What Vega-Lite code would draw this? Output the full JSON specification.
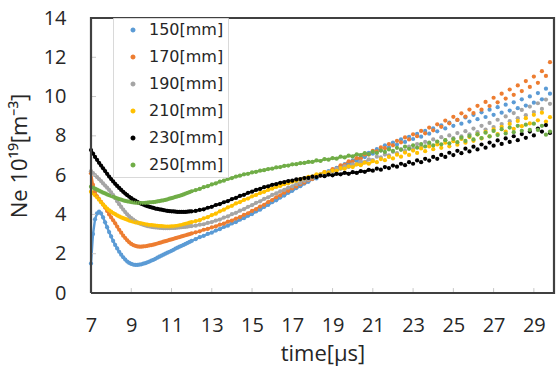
{
"$schema":"https://vega.github.io/schema/vega-lite/v6.json",
"width":463,"height":275,
"autosize":{"type":"none"},
"padding":{"left":91,"top":18,"right":4,"bottom":81},
"background":"white",
"view":{"stroke":null},
"config":{"font":"Open Sans","axis":{"grid":false,"domain":false,"ticks":false,"labelOverlap":false,"labelFontSize":20,"labelColor":"#262626","labelFlush":false,"titleFontSize":22,"titleFontWeight":"normal","titleColor":"#262626"},"axisX":{"labelPadding":22,"titlePadding":8},"axisY":{"labelPadding":25,"titlePadding":12}},
"datasets":{
"ticks":[
{"x":9,"y":0,"g":"x9"},{"x":9,"y":0.25,"g":"x9"},{"x":11,"y":0,"g":"x11"},{"x":11,"y":0.25,"g":"x11"},{"x":13,"y":0,"g":"x13"},{"x":13,"y":0.25,"g":"x13"},{"x":15,"y":0,"g":"x15"},{"x":15,"y":0.25,"g":"x15"},{"x":17,"y":0,"g":"x17"},{"x":17,"y":0.25,"g":"x17"},{"x":19,"y":0,"g":"x19"},{"x":19,"y":0.25,"g":"x19"},{"x":21,"y":0,"g":"x21"},{"x":21,"y":0.25,"g":"x21"},{"x":23,"y":0,"g":"x23"},{"x":23,"y":0.25,"g":"x23"},{"x":25,"y":0,"g":"x25"},{"x":25,"y":0.25,"g":"x25"},{"x":27,"y":0,"g":"x27"},{"x":27,"y":0.25,"g":"x27"},{"x":29,"y":0,"g":"x29"},{"x":29,"y":0.25,"g":"x29"},
{"x":7,"y":2,"g":"y2"},{"x":7.25,"y":2,"g":"y2"},{"x":7,"y":4,"g":"y4"},{"x":7.25,"y":4,"g":"y4"},{"x":7,"y":6,"g":"y6"},{"x":7.25,"y":6,"g":"y6"},{"x":7,"y":8,"g":"y8"},{"x":7.25,"y":8,"g":"y8"},{"x":7,"y":10,"g":"y10"},{"x":7.25,"y":10,"g":"y10"},{"x":7,"y":12,"g":"y12"},{"x":7.25,"y":12,"g":"y12"}],
"frame":[{"x":7,"y":0,"o":1},{"x":30,"y":0,"o":2},{"x":30,"y":14,"o":3},{"x":7,"y":14,"o":4},{"x":7,"y":0,"o":5}],
"ne":[
{"t":7.0,"150":1.5,"170":6.1,"190":6.2,"210":5.16,"230":7.28,"250":5.41},
{"t":7.1,"150":3.0,"170":5.5,"190":6.1,"210":5.08,"230":7.1,"250":5.36},
{"t":7.2,"150":3.75,"170":5.15,"190":6.0,"210":4.98,"230":6.93,"250":5.31},
{"t":7.3,"150":4.05,"170":4.92,"190":5.9,"210":4.87,"230":6.78,"250":5.26},
{"t":7.4,"150":4.14,"170":4.78,"190":5.8,"210":4.75,"230":6.63,"250":5.21},
{"t":7.5,"150":4.05,"170":4.64,"190":5.7,"210":4.62,"230":6.49,"250":5.16},
{"t":7.6,"150":3.85,"170":4.5,"190":5.58,"210":4.5,"230":6.35,"250":5.11},
{"t":7.7,"150":3.6,"170":4.35,"190":5.47,"210":4.4,"230":6.21,"250":5.07},
{"t":7.8,"150":3.35,"170":4.18,"190":5.36,"210":4.3,"230":6.07,"250":5.02},
{"t":7.9,"150":3.1,"170":4.0,"190":5.25,"210":4.21,"230":5.93,"250":4.98},
{"t":8.0,"150":2.88,"170":3.85,"190":5.12,"210":4.14,"230":5.8,"250":4.94},
{"t":8.1,"150":2.65,"170":3.7,"190":4.98,"210":4.07,"230":5.68,"250":4.9},
{"t":8.2,"150":2.45,"170":3.55,"190":4.83,"210":4.01,"230":5.56,"250":4.86},
{"t":8.3,"150":2.27,"170":3.38,"190":4.67,"210":3.95,"230":5.45,"250":4.82},
{"t":8.4,"150":2.1,"170":3.22,"190":4.52,"210":3.9,"230":5.35,"250":4.78},
{"t":8.5,"150":1.95,"170":3.07,"190":4.38,"210":3.85,"230":5.25,"250":4.75},
{"t":8.6,"150":1.82,"170":2.92,"190":4.25,"210":3.81,"230":5.15,"250":4.72},
{"t":8.7,"150":1.7,"170":2.8,"190":4.12,"210":3.77,"230":5.06,"250":4.69},
{"t":8.8,"150":1.6,"170":2.68,"190":4.0,"210":3.73,"230":4.98,"250":4.67},
{"t":8.9,"150":1.53,"170":2.58,"190":3.9,"210":3.69,"230":4.9,"250":4.65},
{"t":9.0,"150":1.48,"170":2.5,"190":3.81,"210":3.66,"230":4.83,"250":4.63},
{"t":9.1,"150":1.45,"170":2.44,"190":3.73,"210":3.63,"230":4.76,"250":4.61},
{"t":9.2,"150":1.43,"170":2.4,"190":3.66,"210":3.6,"230":4.7,"250":4.6},
{"t":9.3,"150":1.43,"170":2.37,"190":3.6,"210":3.58,"230":4.64,"250":4.59},
{"t":9.4,"150":1.44,"170":2.36,"190":3.55,"210":3.56,"230":4.59,"250":4.58},
{"t":9.5,"150":1.46,"170":2.36,"190":3.51,"210":3.54,"230":4.54,"250":4.58},
{"t":9.6,"150":1.49,"170":2.37,"190":3.47,"210":3.52,"230":4.5,"250":4.58},
{"t":9.7,"150":1.52,"170":2.38,"190":3.44,"210":3.5,"230":4.46,"250":4.59},
{"t":9.8,"150":1.56,"170":2.4,"190":3.41,"210":3.48,"230":4.42,"250":4.6},
{"t":9.9,"150":1.6,"170":2.42,"190":3.39,"210":3.46,"230":4.39,"250":4.61},
{"t":10.0,"150":1.65,"170":2.44,"190":3.37,"210":3.45,"230":4.36,"250":4.62},
{"t":10.1,"150":1.69,"170":2.46,"190":3.35,"210":3.44,"230":4.33,"250":4.63},
{"t":10.2,"150":1.74,"170":2.49,"190":3.34,"210":3.43,"230":4.3,"250":4.64},
{"t":10.3,"150":1.8,"170":2.52,"190":3.33,"210":3.42,"230":4.28,"250":4.66},
{"t":10.4,"150":1.85,"170":2.55,"190":3.32,"210":3.41,"230":4.26,"250":4.68},
{"t":10.5,"150":1.9,"170":2.58,"190":3.31,"210":3.4,"230":4.24,"250":4.7},
{"t":10.6,"150":1.95,"170":2.61,"190":3.3,"210":3.39,"230":4.22,"250":4.72},
{"t":10.7,"150":2.0,"170":2.64,"190":3.3,"210":3.38,"230":4.2,"250":4.74},
{"t":10.8,"150":2.05,"170":2.67,"190":3.3,"210":3.38,"230":4.18,"250":4.77},
{"t":10.9,"150":2.1,"170":2.7,"190":3.3,"210":3.38,"230":4.17,"250":4.8},
{"t":11.0,"150":2.15,"170":2.73,"190":3.31,"210":3.39,"230":4.16,"250":4.83},
{"t":11.1,"150":2.2,"170":2.76,"190":3.31,"210":3.39,"230":4.15,"250":4.86},
{"t":11.2,"150":2.26,"170":2.79,"190":3.32,"210":3.4,"230":4.14,"250":4.89},
{"t":11.3,"150":2.31,"170":2.82,"190":3.33,"210":3.42,"230":4.13,"250":4.92},
{"t":11.4,"150":2.36,"170":2.85,"190":3.34,"210":3.44,"230":4.13,"250":4.95},
{"t":11.5,"150":2.4,"170":2.88,"190":3.35,"210":3.46,"230":4.13,"250":4.98},
{"t":11.6,"150":2.45,"170":2.91,"190":3.36,"210":3.49,"230":4.13,"250":5.02},
{"t":11.7,"150":2.5,"170":2.94,"190":3.37,"210":3.52,"230":4.13,"250":5.06},
{"t":11.8,"150":2.55,"170":2.97,"190":3.38,"210":3.55,"230":4.14,"250":5.1},
{"t":11.9,"150":2.6,"170":3.0,"190":3.4,"210":3.58,"230":4.15,"250":5.14},
{"t":12.0,"150":2.65,"170":3.03,"190":3.41,"210":3.61,"230":4.16,"250":5.18},
{"t":12.2,"150":2.74,"170":3.09,"190":3.43,"210":3.66,"230":4.18,"250":5.24},
{"t":12.4,"150":2.84,"170":3.14,"190":3.48,"210":3.71,"230":4.23,"250":5.3},
{"t":12.6,"150":2.91,"170":3.22,"190":3.5,"210":3.8,"230":4.26,"250":5.39},
{"t":12.8,"150":3.01,"170":3.26,"190":3.57,"210":3.86,"230":4.34,"250":5.44},
{"t":13.0,"150":3.07,"170":3.34,"190":3.61,"210":3.97,"230":4.39,"250":5.53},
{"t":13.2,"150":3.18,"170":3.39,"190":3.69,"210":4.04,"230":4.48,"250":5.58},
{"t":13.4,"150":3.25,"170":3.48,"190":3.74,"210":4.16,"230":4.53,"250":5.67},
{"t":13.6,"150":3.36,"170":3.53,"190":3.84,"210":4.24,"230":4.62,"250":5.72},
{"t":13.8,"150":3.43,"170":3.63,"190":3.9,"210":4.36,"230":4.68,"250":5.81},
{"t":14.0,"150":3.54,"170":3.69,"190":4.01,"210":4.44,"230":4.78,"250":5.85},
{"t":14.2,"150":3.61,"170":3.79,"190":4.08,"210":4.56,"230":4.84,"250":5.93},
{"t":14.4,"150":3.73,"170":3.86,"190":4.19,"210":4.63,"230":4.94,"250":5.97},
{"t":14.6,"150":3.81,"170":3.98,"190":4.27,"210":4.74,"230":5.0,"250":6.04},
{"t":14.8,"150":3.93,"170":4.06,"190":4.39,"210":4.81,"230":5.1,"250":6.07},
{"t":15.0,"150":4.02,"170":4.18,"190":4.47,"210":4.92,"230":5.16,"250":6.14},
{"t":15.2,"150":4.15,"170":4.27,"190":4.59,"210":4.99,"230":5.25,"250":6.17},
{"t":15.4,"150":4.24,"170":4.4,"190":4.67,"210":5.09,"230":5.3,"250":6.23},
{"t":15.6,"150":4.38,"170":4.49,"190":4.79,"210":5.15,"230":5.39,"250":6.25},
{"t":15.8,"150":4.48,"170":4.63,"190":4.87,"210":5.25,"230":5.43,"250":6.31},
{"t":16.0,"150":4.62,"170":4.73,"190":4.99,"210":5.31,"230":5.51,"250":6.33},
{"t":16.2,"150":4.72,"170":4.87,"190":5.07,"210":5.4,"230":5.54,"250":6.39},
{"t":16.4,"150":4.86,"170":4.97,"190":5.18,"210":5.45,"230":5.61,"250":6.41},
{"t":16.6,"150":4.96,"170":5.11,"190":5.25,"210":5.54,"230":5.64,"250":6.47},
{"t":16.8,"150":5.1,"170":5.2,"190":5.36,"210":5.59,"230":5.7,"250":6.49},
{"t":17.0,"150":5.2,"170":5.33,"190":5.43,"210":5.67,"230":5.72,"250":6.55},
{"t":17.2,"150":5.34,"170":5.42,"190":5.54,"210":5.71,"230":5.78,"250":6.56},
{"t":17.4,"150":5.44,"170":5.54,"190":5.61,"210":5.79,"230":5.8,"250":6.61},
{"t":17.6,"150":5.57,"170":5.62,"190":5.71,"210":5.83,"230":5.85,"250":6.62},
{"t":17.8,"150":5.66,"170":5.74,"190":5.77,"210":5.91,"230":5.86,"250":6.67},
{"t":18.0,"150":5.8,"170":5.81,"190":5.88,"210":5.93,"230":5.92,"250":6.67},
{"t":18.2,"150":5.83,"170":5.96,"190":5.92,"210":6.04,"230":5.9,"250":6.75},
{"t":18.4,"150":6.01,"170":5.98,"190":6.04,"210":6.04,"230":5.98,"250":6.72},
{"t":18.6,"150":6.03,"170":6.15,"190":6.04,"210":6.15,"230":5.95,"250":6.82},
{"t":18.8,"150":6.2,"170":6.15,"190":6.17,"210":6.13,"230":6.03,"250":6.79},
{"t":19.0,"150":6.2,"170":6.31,"190":6.17,"210":6.23,"230":5.99,"250":6.87},
{"t":19.2,"150":6.37,"170":6.32,"190":6.32,"210":6.22,"230":6.07,"250":6.84},
{"t":19.4,"150":6.37,"170":6.5,"190":6.32,"210":6.36,"230":6.04,"250":6.94},
{"t":19.6,"150":6.56,"170":6.52,"190":6.45,"210":6.33,"230":6.12,"250":6.9},
{"t":19.8,"150":6.57,"170":6.7,"190":6.42,"210":6.45,"230":6.07,"250":6.99},
{"t":20.0,"150":6.75,"170":6.69,"190":6.55,"210":6.41,"230":6.15,"250":6.95},
{"t":20.2,"150":6.72,"170":6.87,"190":6.55,"210":6.55,"230":6.11,"250":7.06},
{"t":20.4,"150":6.94,"170":6.85,"190":6.69,"210":6.51,"230":6.21,"250":7.02},
{"t":20.6,"150":6.92,"170":7.05,"190":6.66,"210":6.64,"230":6.17,"250":7.12},
{"t":20.8,"150":7.13,"170":7.05,"190":6.8,"210":6.58,"230":6.27,"250":7.07},
{"t":21.0,"150":7.09,"170":7.24,"190":6.77,"210":6.71,"230":6.23,"250":7.19},
{"t":21.2,"150":7.32,"170":7.21,"190":6.94,"210":6.66,"230":6.33,"250":7.13},
{"t":21.4,"150":7.26,"170":7.41,"190":6.9,"210":6.82,"230":6.28,"250":7.25},
{"t":21.6,"150":7.52,"170":7.37,"190":7.05,"210":6.76,"230":6.41,"250":7.18},
{"t":21.8,"150":7.42,"170":7.58,"190":7.01,"210":6.93,"230":6.36,"250":7.31},
{"t":22.0,"150":7.66,"170":7.52,"190":7.19,"210":6.85,"230":6.49,"250":7.23},
{"t":22.2,"150":7.56,"170":7.75,"190":7.12,"210":7.04,"230":6.43,"250":7.39},
{"t":22.4,"150":7.82,"170":7.67,"190":7.32,"210":6.94,"230":6.58,"250":7.29},
{"t":22.6,"150":7.69,"170":7.92,"190":7.24,"210":7.15,"230":6.51,"250":7.45},
{"t":22.8,"150":7.95,"170":7.82,"190":7.45,"210":7.03,"230":6.66,"250":7.34},
{"t":23.0,"150":7.84,"170":8.08,"190":7.35,"210":7.25,"230":6.58,"250":7.52},
{"t":23.2,"150":8.1,"170":7.98,"190":7.58,"210":7.13,"230":6.75,"250":7.4},
{"t":23.4,"150":7.96,"170":8.25,"190":7.47,"210":7.36,"230":6.66,"250":7.58},
{"t":23.6,"150":8.25,"170":8.13,"190":7.69,"210":7.22,"230":6.83,"250":7.46},
{"t":23.8,"150":8.11,"170":8.42,"190":7.58,"210":7.46,"230":6.74,"250":7.65},
{"t":24.0,"150":8.38,"170":8.28,"190":7.82,"210":7.32,"230":6.93,"250":7.51},
{"t":24.2,"150":8.23,"170":8.59,"190":7.69,"210":7.56,"230":6.83,"250":7.71},
{"t":24.4,"150":8.54,"170":8.46,"190":7.93,"210":7.39,"230":7.03,"250":7.57},
{"t":24.6,"150":8.38,"170":8.78,"190":7.78,"210":7.65,"230":6.93,"250":7.78},
{"t":24.8,"150":8.67,"170":8.64,"190":8.02,"210":7.47,"230":7.14,"250":7.62},
{"t":25.0,"150":8.51,"170":8.97,"190":7.88,"210":7.73,"230":7.02,"250":7.84},
{"t":25.2,"150":8.81,"170":8.81,"190":8.14,"210":7.55,"230":7.24,"250":7.68},
{"t":25.4,"150":8.62,"170":9.15,"190":7.97,"210":7.84,"230":7.12,"250":7.91},
{"t":25.6,"150":8.94,"170":8.98,"190":8.24,"210":7.65,"230":7.35,"250":7.74},
{"t":25.8,"150":8.73,"170":9.34,"190":8.08,"210":7.94,"230":7.21,"250":7.99},
{"t":26.0,"150":9.07,"170":9.16,"190":8.37,"210":7.75,"230":7.45,"250":7.82},
{"t":26.2,"150":8.85,"170":9.53,"190":8.19,"210":8.07,"230":7.31,"250":8.08},
{"t":26.4,"150":9.2,"170":9.33,"190":8.51,"210":7.87,"230":7.56,"250":7.89},
{"t":26.6,"150":8.96,"170":9.73,"190":8.32,"210":8.2,"230":7.4,"250":8.16},
{"t":26.8,"150":9.33,"170":9.52,"190":8.66,"210":7.98,"230":7.66,"250":7.97},
{"t":27.0,"150":9.07,"170":9.94,"190":8.45,"210":8.33,"230":7.5,"250":8.25},
{"t":27.2,"150":9.46,"170":9.71,"190":8.82,"210":8.09,"230":7.77,"250":8.04},
{"t":27.4,"150":9.18,"170":10.15,"190":8.6,"210":8.46,"230":7.59,"250":8.34},
{"t":27.6,"150":9.59,"170":9.9,"190":8.99,"210":8.22,"230":7.87,"250":8.12},
{"t":27.8,"150":9.29,"170":10.36,"190":8.75,"210":8.61,"230":7.69,"250":8.42},
{"t":28.0,"150":9.71,"170":10.09,"190":9.16,"210":8.36,"230":7.98,"250":8.19},
{"t":28.2,"150":9.41,"170":10.57,"190":8.9,"210":8.76,"230":7.78,"250":8.51},
{"t":28.4,"150":9.86,"170":10.28,"190":9.32,"210":8.49,"230":8.09,"250":8.26},
{"t":28.6,"150":9.54,"170":10.79,"190":9.05,"210":8.9,"230":7.9,"250":8.57},
{"t":28.8,"150":10.01,"170":10.49,"190":9.49,"210":8.63,"230":8.22,"250":8.3},
{"t":29.0,"150":9.69,"170":11.02,"190":9.21,"210":9.07,"230":8.02,"250":8.62},
{"t":29.2,"150":10.18,"170":10.7,"190":9.66,"210":8.79,"230":8.37,"250":8.3},
{"t":29.4,"150":9.86,"170":11.29,"190":9.37,"210":9.18,"230":8.22,"250":8.51},
{"t":29.6,"150":10.4,"170":11.05,"190":9.85,"210":8.73,"230":8.55,"250":8.06},
{"t":29.8,"150":10.15,"170":11.75,"190":9.63,"210":8.95,"230":8.15,"250":8.22}
]},
"layer":[
{"data":{"name":"ne"},
"transform":[{"fold":["150","170","190","210","230","250"],"as":["k","v"]},{"filter":"datum.t <= 21"}],
"mark":{"type":"line","strokeWidth":2.4},
"encoding":{
"x":{"field":"t","type":"quantitative","scale":{"domain":[7,30],"nice":false,"zero":false},"axis":{"values":[7,9,11,13,15,17,19,21,23,25,27,29],"title":"time[μs]"}},
"y":{"field":"v","type":"quantitative","scale":{"domain":[0,14],"nice":false},"axis":{"values":[0,2,4,6,8,10,12,14],"title":"Ne 10¹⁹[m⁻³]"}},
"color":{"field":"k","type":"nominal","scale":{"domain":["150","170","190","210","230","250"],"range":["#5B9BD5","#ED7D31","#A5A5A5","#FFC000","#000000","#70AD47"]},
"legend":{"title":null,"orient":"none","legendX":22,"legendY":0,"labelExpr":"datum.label + '[mm]'","labelFont":"DejaVu Sans","labelFontSize":16,"labelColor":"#262626","symbolType":"circle","symbolSize":12,"rowPadding":11,"padding":4,"symbolOffset":8,"labelOffset":8,"strokeColor":"#d9d9d9","fillColor":"white"}}
}},
{"data":{"name":"ne"},
"transform":[{"fold":["150","170","190","210","230","250"],"as":["k","v"]}],
"mark":{"type":"point","filled":true,"size":18,"opacity":1},
"encoding":{
"x":{"field":"t","type":"quantitative","axis":{"values":[7,9,11,13,15,17,19,21,23,25,27,29],"title":"time[μs]"}},
"y":{"field":"v","type":"quantitative","axis":{"values":[0,2,4,6,8,10,12,14],"title":"Ne 10¹⁹[m⁻³]"}},
"color":{"field":"k","type":"nominal"}
}},
{"data":{"name":"ticks"},
"mark":{"type":"line","color":"#c8c8c8","strokeWidth":1},
"encoding":{
"x":{"field":"x","type":"quantitative","axis":{"values":[7,9,11,13,15,17,19,21,23,25,27,29],"title":"time[μs]"}},
"y":{"field":"y","type":"quantitative","axis":{"values":[0,2,4,6,8,10,12,14],"title":"Ne 10¹⁹[m⁻³]"}},
"detail":{"field":"g","type":"nominal"}}},
{"data":{"name":"frame"},
"mark":{"type":"line","color":"#404040","strokeWidth":2.2},
"encoding":{
"x":{"field":"x","type":"quantitative","axis":{"values":[7,9,11,13,15,17,19,21,23,25,27,29],"title":"time[μs]"}},
"y":{"field":"y","type":"quantitative","axis":{"values":[0,2,4,6,8,10,12,14],"title":"Ne 10¹⁹[m⁻³]"}},
"order":{"field":"o","type":"quantitative"}}}
]
}
